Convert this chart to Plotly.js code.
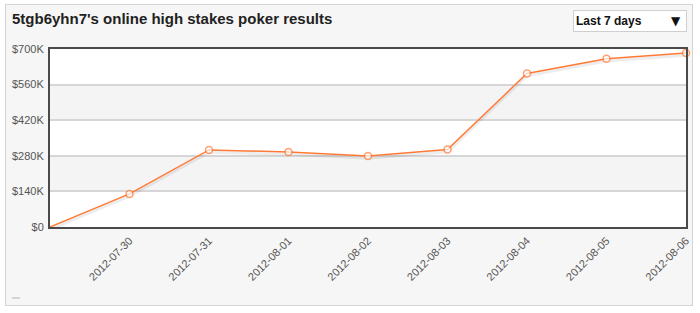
<!DOCTYPE html>
<html>
<head>
<meta charset="utf-8">
<script src="https://cdn.plot.ly/plotly-3.0.1.min.js"></script>
<style>
html,body{margin:0;padding:0;background:#fff;}
#frame{position:absolute;left:5px;top:4px;width:688px;height:302px;border:1px solid #d4d4d4;background:#f6f6f6;box-sizing:border-box;}
#chart{position:absolute;left:0;top:0;width:700px;height:313px;}
</style>
</head>
<body>
<div id="frame"></div>
<div id="chart"></div>
<script>
const dates = ['2012-07-29','2012-07-30','2012-07-31','2012-08-01','2012-08-02','2012-08-03','2012-08-04','2012-08-05','2012-08-06'];
const results = [0, 130000, 303000, 295000, 279000, 305000, 604000, 662000, 684000];
const tickDates = ['2012-07-30','2012-07-31','2012-08-01','2012-08-02','2012-08-03','2012-08-04','2012-08-05','2012-08-06'];
const yTickVals = [0, 140000, 280000, 420000, 560000, 700000];
const yTickText = ['$0','$140K','$280K','$420K','$560K','$700K'];
const bands = [[140000, 280000], [420000, 560000]];
const titleText = "5tgb6yhn7's online high stakes poker results";
const rangeLabel = 'Last 7 days';

const markerSizes = results.map((v, i) => i === 0 ? 0 : 7);

const traces = [
  { x: dates, y: results.map(v => v - 9000), type: 'scatter', mode: 'lines',
    line: {color: 'rgba(0,0,0,0.07)', width: 3}, hoverinfo: 'skip', showlegend: false },
  { x: dates, y: results, type: 'scatter', mode: 'lines+markers',
    line: {color: '#ff7a36', width: 1.5},
    marker: {symbol: 'circle', size: markerSizes, color: '#ffffff', line: {color: '#ff7a36', width: 1.5}},
    cliponaxis: false, showlegend: false }
];

const shapes = bands.map(b => ({
  type: 'rect', xref: 'paper', yref: 'y', x0: 0, x1: 1, y0: b[0], y1: b[1],
  fillcolor: '#f4f4f4', line: {width: 0}, layer: 'below'
}));
shapes.push({type: 'line', xref: 'paper', yref: 'paper', x0: -0.06, x1: -0.047, y0: -0.399, y1: -0.399,
  line: {color: '#b5b5b5', width: 1}});

const layout = {
  width: 700, height: 313,
  margin: {l: 50, r: 14, t: 49, b: 86},
  paper_bgcolor: 'rgba(0,0,0,0)',
  plot_bgcolor: '#ffffff',
  showlegend: false,
  font: {family: 'Liberation Sans, Arial, sans-serif', size: 11, color: '#555'},
  xaxis: {
    type: 'date', range: [dates[0], dates[dates.length - 1]],
    tickvals: tickDates, tickformat: '%Y-%m-%d', tickangle: -45,
    showgrid: false, zeroline: false, ticks: '', ticklabelstandoff: 1,
    showline: true, mirror: true, linecolor: '#4a4a4a', linewidth: 2,
    tickfont: {size: 11, color: '#555'}
  },
  yaxis: {
    range: [0, 700000], tickvals: yTickVals, ticktext: yTickText,
    showgrid: true, gridcolor: '#d6d6d6', gridwidth: 2, zeroline: false, ticks: '', ticklabelstandoff: 2,
    showline: true, mirror: true, linecolor: '#4a4a4a', linewidth: 2,
    tickfont: {size: 11, color: '#555'}
  },
  shapes: shapes,
  annotations: [
    { text: '<b>' + titleText + '</b>', xref: 'paper', yref: 'paper', x: -0.063, y: 1.174,
      xanchor: 'left', yanchor: 'middle', showarrow: false,
      font: {family: 'Liberation Sans, Arial, sans-serif', size: 15, color: '#222'} },
    { text: '<b>' + rangeLabel + '</b>', xref: 'paper', yref: 'paper', x: 0.912, y: 1.157,
      xanchor: 'center', yanchor: 'middle', showarrow: false, align: 'left',
      width: 108, height: 16, borderpad: 2, bgcolor: '#ffffff', bordercolor: '#cfcfcf', borderwidth: 1,
      font: {family: 'Liberation Sans, Arial, sans-serif', size: 12, color: '#111'} },
    { text: '▼', xref: 'paper', yref: 'paper', x: 0.984, y: 1.157,
      xanchor: 'center', yanchor: 'middle', showarrow: false,
      font: {family: 'DejaVu Sans, sans-serif', size: 12, color: '#111'} }
  ]
};

Plotly.newPlot('chart', traces, layout, {displayModeBar: false, staticPlot: true});
</script>
</body>
</html>
